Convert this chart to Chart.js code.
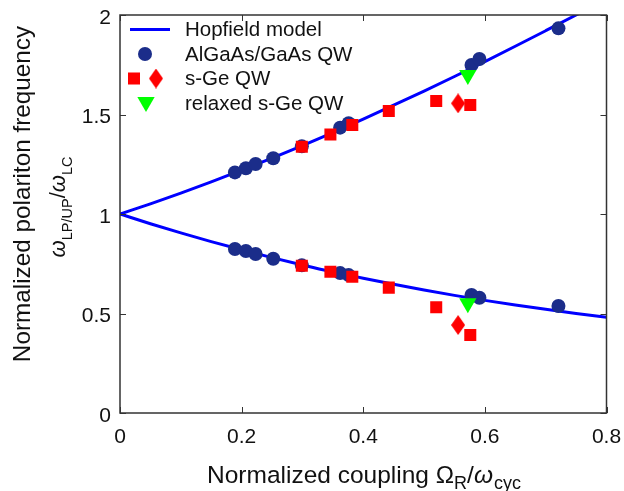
<!DOCTYPE html>
<html>
<head>
<meta charset="utf-8">
<script src="https://cdn.jsdelivr.net/npm/chart.js@4.4.1/dist/chart.umd.min.js"></script>
<style>
  html, body { margin: 0; padding: 0; background: #fff; }
  #wrap { width: 624px; height: 491px; }
</style>
</head>
<body>
<div id="wrap"><canvas id="c" width="624" height="491"></canvas></div>
<script>
// ---- axes ----
const xTicks = [0, 0.2, 0.4, 0.6, 0.8];
const xTickLabels = ['0', '0.2', '0.4', '0.6', '0.8'];
const yTicks = [0, 0.5, 1, 1.5, 2];
const yTickLabels = ['0', '0.5', '1', '1.5', '2'];

// ---- Hopfield model branches (upper / lower polariton) ----
const hopfieldX  = [0, 0.05, 0.1, 0.15, 0.2, 0.25, 0.3, 0.35, 0.4, 0.45, 0.5, 0.55, 0.6, 0.65, 0.7, 0.75, 0.8];
const hopfieldUP = [1, 1.051, 1.105, 1.161, 1.220, 1.281, 1.344, 1.409, 1.477, 1.547, 1.618, 1.691, 1.766, 1.843, 1.921, 2.000, 2.081];
const hopfieldLP = [1, 0.951, 0.905, 0.861, 0.820, 0.781, 0.744, 0.709, 0.677, 0.647, 0.618, 0.591, 0.566, 0.543, 0.521, 0.500, 0.481];

// ---- AlGaAs/GaAs QW ----
const algaasX  = [0.189, 0.207, 0.223, 0.252, 0.299, 0.362, 0.376, 0.578, 0.591, 0.721];
const algaasUP = [1.209, 1.230, 1.251, 1.280, 1.340, 1.434, 1.456, 1.749, 1.779, 1.933];
const algaasLP = [0.824, 0.814, 0.799, 0.775, 0.742, 0.703, 0.693, 0.593, 0.579, 0.538];

// ---- s-Ge QW (squares) ----
const sgeX  = [0.299, 0.346, 0.382, 0.442, 0.520, 0.576];
const sgeUP = [1.338, 1.400, 1.447, 1.518, 1.568, 1.548];
const sgeLP = [0.740, 0.710, 0.685, 0.630, 0.531, 0.392];

// ---- s-Ge QW (diamond) ----
const sgeDiaX  = [0.556];
const sgeDiaUP = [1.556];
const sgeDiaLP = [0.442];

// ---- relaxed s-Ge QW ----
const relaxedX  = [0.572];
const relaxedUP = [1.698];
const relaxedLP = [0.551];

const FONT = "'Liberation Sans', Arial, Helvetica, sans-serif";
const BLUE = '#0000ff';
const NAVY = '#1b2d8a';
const RED = '#ff0000';
const GREEN = '#00ff00';

function pts(xs, ys) { return xs.map((x, i) => ({ x: x, y: ys[i] })); }

// tall red diamond marker
function makeDiamond(w, h, color) {
  const cv = document.createElement('canvas');
  cv.width = w; cv.height = h;
  const g = cv.getContext('2d');
  g.fillStyle = color;
  g.beginPath();
  g.moveTo(w / 2, 0); g.lineTo(w, h / 2); g.lineTo(w / 2, h); g.lineTo(0, h / 2);
  g.closePath(); g.fill();
  return cv;
}
const diamond = makeDiamond(14, 20, RED);

// draws a run of text pieces (with sub-scripts) centred on cx, baseline at by
function drawRich(ctx, segs, cx, by) {
  let total = 0;
  segs.forEach(s => { ctx.font = s.font; s.w = ctx.measureText(s.t).width; total += s.w + (s.gap || 0); });
  let x = cx - total / 2;
  ctx.textAlign = 'left';
  ctx.textBaseline = 'alphabetic';
  segs.forEach(s => {
    ctx.font = s.font;
    ctx.fillText(s.t, x, by + (s.dy || 0));
    x += s.w + (s.gap || 0);
  });
}

const f = (size, italic) => (italic ? 'italic ' : '') + size + 'px ' + FONT;

const decor = {
  id: 'decor',
  afterDatasetsDraw(chart) {
    const { ctx, chartArea: a, scales } = chart;
    const xs = scales.x, ys = scales.y;
    ctx.save();

    // frame
    ctx.strokeStyle = '#333';
    ctx.lineWidth = 1.5;
    ctx.strokeRect(a.left, a.top, a.right - a.left, a.bottom - a.top);

    // inward tick marks on all four sides
    ctx.lineWidth = 1;
    ctx.beginPath();
    xTicks.forEach(v => {
      const px = Math.round(xs.getPixelForValue(v)) + 0.5;
      ctx.moveTo(px, a.bottom); ctx.lineTo(px, a.bottom - 6);
      ctx.moveTo(px, a.top); ctx.lineTo(px, a.top + 6);
    });
    yTicks.forEach(v => {
      const py = Math.round(ys.getPixelForValue(v)) + 0.5;
      ctx.moveTo(a.left, py); ctx.lineTo(a.left + 6, py);
      ctx.moveTo(a.right, py); ctx.lineTo(a.right - 6, py);
    });
    ctx.stroke();

    // legend
    const lf = f(20.5);
    const textX = 185;
    const rows = [29.5, 54, 78.5, 103];
    ctx.strokeStyle = BLUE; ctx.lineWidth = 3;
    ctx.beginPath(); ctx.moveTo(130, rows[0]); ctx.lineTo(170, rows[0]); ctx.stroke();

    ctx.fillStyle = NAVY;
    Chart.helpers.drawPoint(ctx, { pointStyle: 'circle', radius: 7, borderWidth: 0, rotation: 0 }, 145, rows[1]);
    ctx.fillStyle = RED;
    Chart.helpers.drawPoint(ctx, { pointStyle: 'rect', radius: 8.5, borderWidth: 0, rotation: 0 }, 134, rows[2]);
    Chart.helpers.drawPoint(ctx, { pointStyle: diamond, radius: 8, borderWidth: 0, rotation: 0 }, 156, rows[2]);
    ctx.fillStyle = GREEN;
    Chart.helpers.drawPoint(ctx, { pointStyle: 'triangle', radius: 10, borderWidth: 0, rotation: 180 }, 146, rows[3] - 1);

    ctx.fillStyle = '#111';
    ctx.font = lf;
    ctx.textAlign = 'left';
    ctx.textBaseline = 'middle';
    ['Hopfield model', 'AlGaAs/GaAs QW', 's-Ge QW', 'relaxed s-Ge QW'].forEach((t, i) => {
      ctx.fillText(t, textX, rows[i] + 1);
    });

    // x-axis title
    ctx.fillStyle = '#111';
    drawRich(ctx, [
      { t: 'Normalized coupling ', font: f(24.5) },
      { t: '\u03A9', font: f(24.5) },
      { t: 'R', font: f(18), dy: 6 },
      { t: '/', font: f(24.5) },
      { t: '\u03C9', font: f(24.5, true), gap: 1 },
      { t: 'cyc', font: f(18), dy: 6 }
    ], 364, 483);

    // y-axis title (two rotated lines)
    ctx.save();
    ctx.translate(30, 194);
    ctx.rotate(-Math.PI / 2);
    drawRich(ctx, [{ t: 'Normalized polariton frequency', font: f(24.3) }], 0, 0);
    ctx.restore();

    ctx.save();
    ctx.translate(65, 207);
    ctx.rotate(-Math.PI / 2);
    drawRich(ctx, [
      { t: '\u03C9', font: f(22, true) },
      { t: 'LP/UP', font: f(14.5), dy: 7 },
      { t: '/', font: f(22) },
      { t: '\u03C9', font: f(22, true) },
      { t: 'LC', font: f(14.5), dy: 7 }
    ], 0, 0);
    ctx.restore();

    ctx.restore();
  }
};

new Chart(document.getElementById('c'), {
  type: 'scatter',
  data: {
    datasets: [
      { label: 'Hopfield model', data: pts(hopfieldX, hopfieldUP), showLine: true, borderColor: BLUE, borderWidth: 3, pointRadius: 0, cubicInterpolationMode: 'monotone', order: 4 },
      { label: 'Hopfield model LP', data: pts(hopfieldX, hopfieldLP), showLine: true, borderColor: BLUE, borderWidth: 3, pointRadius: 0, cubicInterpolationMode: 'monotone', order: 4 },
      { label: 'AlGaAs/GaAs QW', data: pts(algaasX, algaasUP).concat(pts(algaasX, algaasLP)), pointStyle: 'circle', pointRadius: 7, pointBorderWidth: 0, backgroundColor: NAVY, borderColor: NAVY, order: 3 },
      { label: 's-Ge QW', data: pts(sgeX, sgeUP).concat(pts(sgeX, sgeLP)), pointStyle: 'rect', pointRadius: 8.5, pointBorderWidth: 0, backgroundColor: RED, borderColor: RED, order: 2 },
      { label: 's-Ge QW diamond', data: pts(sgeDiaX, sgeDiaUP).concat(pts(sgeDiaX, sgeDiaLP)), pointStyle: diamond, pointRadius: 8, pointBorderWidth: 0, backgroundColor: RED, borderColor: RED, order: 2 },
      { label: 'relaxed s-Ge QW', data: pts(relaxedX, relaxedUP).concat(pts(relaxedX, relaxedLP)), pointStyle: 'triangle', rotation: 180, pointRadius: 10, pointBorderWidth: 0, backgroundColor: GREEN, borderColor: GREEN, order: 1 }
    ]
  },
  options: {
    responsive: false,
    animation: false,
    devicePixelRatio: 1,
    layout: { padding: { left: 0, right: 17.5, top: 15, bottom: 0 } },
    plugins: { legend: { display: false }, tooltip: { enabled: false } },
    scales: {
      x: {
        type: 'linear', min: 0, max: 0.8,
        grid: { display: false, drawTicks: false },
        border: { display: false },
        afterBuildTicks: s => { s.ticks = xTicks.map(v => ({ value: v })); },
        afterFit: s => { s.height = 78; s.paddingLeft = 0; s.paddingRight = 0; },
        ticks: {
          padding: 12, color: '#111', maxRotation: 0, autoSkip: false,
          font: { family: FONT, size: 21 },
          callback: (v) => xTickLabels[xTicks.indexOf(v)]
        }
      },
      y: {
        type: 'linear', min: 0, max: 2,
        grid: { display: false, drawTicks: false },
        border: { display: false },
        afterBuildTicks: s => { s.ticks = yTicks.map(v => ({ value: v })); },
        afterFit: s => { s.width = 120; s.paddingTop = 0; s.paddingBottom = 0; },
        ticks: {
          padding: 9, color: '#111', autoSkip: false, labelOffset: 3,
          font: { family: FONT, size: 21 },
          callback: (v) => yTickLabels[yTicks.indexOf(v)]
        }
      }
    }
  },
  plugins: [decor]
});
</script>
</body>
</html>
